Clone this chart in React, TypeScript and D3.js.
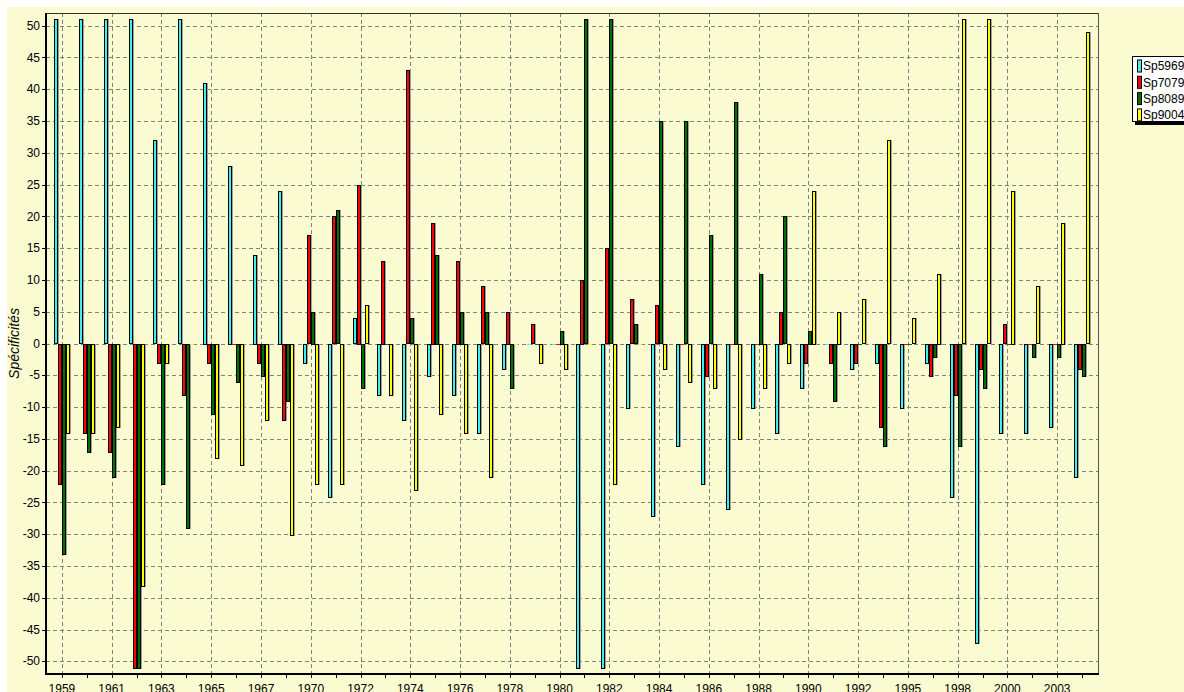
import React from "react";
import * as d3 from "d3";

const years = ["1959","1960","1961","1962","1963","1964","1965","1966","1967","1969","1970","1971","1972","1973","1974","1975","1976","1977","1978","1979","1980","1981","1982","1983","1984","1985","1986","1987","1988","1989","1990","1991","1992","1993","1995","1997","1998","1999","2000","2002","2003","2004"];
const labeledYears = ["1959","1961","1963","1965","1967","1970","1972","1974","1976","1978","1980","1982","1984","1986","1988","1990","1992","1995","1998","2000","2003"];

const sp5969 = [51,51,51,51,32,51,41,28,14,24,-3,-24,4,-8,-12,-5,-8,-14,-4,0,0,-51,-51,-10,-27,-16,-22,-26,-10,-14,-7,0,-4,-3,-10,-3,-24,-47,-14,-14,-13,-21];
const sp7079 = [-22,-14,-17,-51,-3,-8,-3,0,-3,-12,17,20,25,13,43,19,13,9,5,3,0,10,15,7,6,0,-5,0,0,5,-3,-3,-3,-13,0,-5,-8,-4,3,0,0,-4];
const sp8089 = [-33,-17,-21,-51,-22,-29,-11,-6,-5,-9,5,21,-7,0,4,14,5,5,-7,0,2,51,51,3,35,35,17,38,11,20,2,-9,0,-16,0,-2,-16,-7,0,-2,-2,-5];
const sp9004 = [-14,-14,-13,-38,-3,0,-18,-19,-12,-30,-22,-22,6,-8,-23,-11,-14,-21,0,-3,-4,0,-22,0,-4,-6,-7,-15,-7,-3,24,5,7,32,4,11,51,51,24,9,19,49];

const seriesNames = ["Sp5969","Sp7079","Sp8089","Sp9004"];
const seriesColors = ["#40f0f0","#ff0000","#007000","#ffff00"];
const seriesValues = [sp5969, sp7079, sp8089, sp9004];
const yTicks = [50,45,40,35,30,25,20,15,10,5,0,-5,-10,-15,-20,-25,-30,-35,-40,-45,-50];

const W = 1184, H = 692;
const L = 46, R = 1098, T = 13, B = 674;
const font = "'Liberation Sans', Arial, sans-serif";

export default function App() {
  const x = d3.scalePoint<string>().domain(years).range([L, R]).padding(0.64);
  const y = d3.scaleLinear().domain([-52, 52]).range([B, T]);
  const barW = 4;
  const y0 = Math.round(y(0));

  return (
    <svg width={W} height={H} style={{ position: "absolute", left: 0, top: 0, display: "block" }} fontFamily={font}>
      <rect x={0} y={0} width={W} height={H} fill="#ffffff" />
      <rect x={7} y={7} width={W - 7} height={H - 7} fill="#fbfbd2" />
      {/* horizontal grid */}
      {yTicks.map((t) => (
        <line key={"hg" + t} x1={L} x2={R} y1={Math.round(y(t)) + 0.5} y2={Math.round(y(t)) + 0.5} stroke="#808080" strokeDasharray="4,3" />
      ))}
      {/* vertical grid */}
      {labeledYears.map((yr) => (
        <line key={"vg" + yr} x1={Math.round(x(yr)!) + 0.5} x2={Math.round(x(yr)!) + 0.5} y1={T} y2={B} stroke="#808080" strokeDasharray="4,3" />
      ))}
      {/* bars */}
      {years.map((yr, i) => {
        const cx = Math.round(x(yr)!);
        return seriesValues.map((vals, s) => {
          const v = vals[i];
          const bx = cx - 8 + s * barW;
          if (v === 0) {
            return <line key={yr + s} x1={bx} x2={bx + barW} y1={y0 + 0.5} y2={y0 + 0.5} stroke={seriesColors[s]} strokeWidth={1} />;
          }
          const top = Math.round(Math.min(y(v), y(0)));
          const h = Math.round(Math.abs(y(v) - y(0)));
          return (
            <g key={yr + s}>
              <rect x={bx + 0.5} y={top + 0.5} width={barW} height={h} fill="none" stroke="#a0a0a0" strokeWidth={1} />
              <rect x={bx + 0.5} y={top + 0.5} width={barW - 1} height={h} fill={seriesColors[s]} stroke="#000" strokeWidth={1} />
            </g>
          );
        });
      })}
      {/* frame */}
      <line x1={L} x2={R} y1={T + 0.5} y2={T + 0.5} stroke="#333" strokeWidth={1} />
      <line x1={R + 0.5} x2={R + 0.5} y1={T} y2={B} stroke="#555" strokeWidth={1} />
      <line x1={L} x2={L} y1={T} y2={B + 1} stroke="#000" strokeWidth={2} />
      <line x1={L - 1} x2={R + 1} y1={B} y2={B} stroke="#000" strokeWidth={2} />
      {/* y ticks */}
      {yTicks.map((t) => (
        <g key={"yt" + t}>
          <line x1={L - 4} x2={L} y1={Math.round(y(t)) + 0.5} y2={Math.round(y(t)) + 0.5} stroke="#000" />
          <text x={40} y={y(t)} dy="0.35em" textAnchor="end" fontSize={12} fill="#000">{t}</text>
        </g>
      ))}
      {/* x ticks */}
      {years.map((yr) => (
        <line key={"xt" + yr} x1={Math.round(x(yr)!) + 0.5} x2={Math.round(x(yr)!) + 0.5} y1={B} y2={B + 4} stroke="#000" />
      ))}
      {labeledYears.map((yr) => (
        <text key={"xl" + yr} x={x(yr)!} y={693} textAnchor="middle" fontSize={12} fill="#000">{yr}</text>
      ))}
      {/* y title */}
      <text transform={`translate(19,${y(0)}) rotate(-90)`} textAnchor="middle" fontSize={14} fontStyle="italic" fill="#000">Spécificités</text>
      {/* legend */}
      <rect x={1135} y={59} width={60} height={66} fill="#000" />
      <rect x={1132.5} y={56.5} width={60} height={65} fill="#fff" stroke="#000" />
      {seriesNames.map((n, i) => {
        const cy = 66 + i * 16.3;
        return (
          <g key={n}>
            <rect x={1137.5} y={cy - 6} width={4} height={12} fill={seriesColors[i]} stroke="#000" />
            <text x={1143} y={cy} dy="0.35em" fontSize={12} fill="#000">{n}</text>
          </g>
        );
      })}
    </svg>
  );
}
